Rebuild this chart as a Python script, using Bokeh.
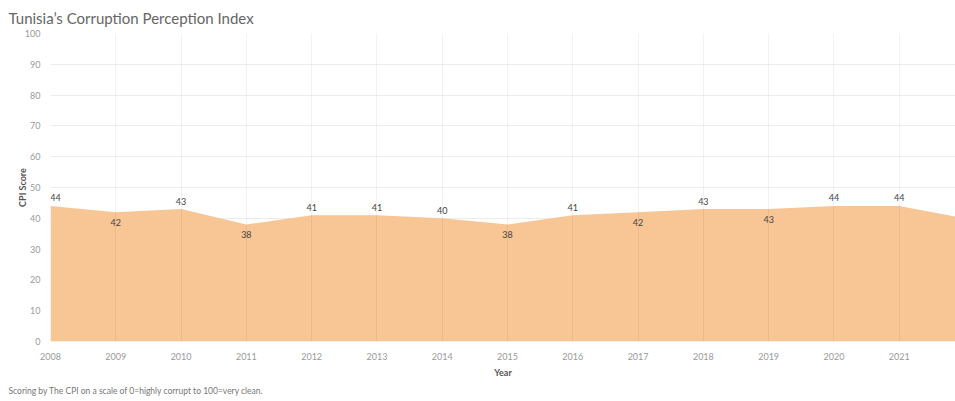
from bokeh.plotting import figure
from bokeh.models import ColumnDataSource, Range1d, FixedTicker, Title, Label
from bokeh.core.properties import value
from bokeh.embed import file_html
from bokeh.resources import INLINE

# ---- data ----
years = [2008, 2009, 2010, 2011, 2012, 2013, 2014, 2015, 2016, 2017, 2018, 2019, 2020, 2021, 2022]
cpi = [44, 42, 43, 38, 41, 41, 40, 38, 41, 42, 43, 43, 44, 44, 40]
label_side = ["above", "below", "above", "below", "above", "above", "above", "below",
              "above", "below", "above", "below", "above", "above", "below"]
y_ticks = [0, 10, 20, 30, 40, 50, 60, 70, 80, 90, 100]
title_text = "Tunisia\u2019s Corruption Perception Index"
footer_text = "Scoring by The CPI on a scale of 0=highly corrupt to 100=very clean."

FONT = "Lato"
AREA = "#F8C594"

p = figure(width=955, height=401, output_backend="svg", toolbar_location=None,
           x_range=Range1d(2008, 2021.862), y_range=Range1d(0, 100),
           min_border_left=50, min_border_right=0, min_border_top=32, min_border_bottom=60,
           background_fill_color="white", border_fill_color="white")
p.outline_line_color = None

# title
p.title.text = title_text
p.title.text_font = FONT
p.title.text_font_size = "15px"
p.title.text_font_style = "normal"
p.title.text_color = "#666666"
p.title.align = "left"
p.title.offset = -42
p.title.standoff = 13

# area
src = ColumnDataSource(dict(x=years, y=cpi, y0=[0] * len(years)))
p.varea(x="x", y1="y0", y2="y", source=src, fill_color=AREA, fill_alpha=1.0)

# value labels
xoff = []
yoff = []
for i, s in enumerate(label_side):
    xoff.append(5 if i == 0 else 0)
    yoff.append(-8 if s == "above" else 10)
lab_src = ColumnDataSource(dict(x=years, y=cpi, t=[str(v) for v in cpi], xo=xoff, yo=yoff))
p.text(x="x", y="y", text="t", source=lab_src, x_offset="xo", y_offset="yo",
       text_font=value(FONT), text_font_size="9px", text_color="#444444",
       text_align="center", text_baseline="middle")

# grids
p.ygrid.ticker = FixedTicker(ticks=y_ticks)
p.ygrid.grid_line_color = "#ececec"
p.ygrid.grid_line_width = 1
p.xgrid.ticker = FixedTicker(ticks=years)
p.xgrid.grid_line_color = "#000000"
p.xgrid.grid_line_alpha = 0.05
p.xgrid.level = "overlay"

# axes
p.yaxis.ticker = FixedTicker(ticks=y_ticks)
p.xaxis.ticker = FixedTicker(ticks=years)
for ax in (p.xaxis[0], p.yaxis[0]):
    ax.axis_line_color = None
    ax.major_tick_line_color = None
    ax.minor_tick_line_color = None
    ax.major_label_text_font = FONT
    ax.major_label_text_font_size = "9px"
    ax.major_label_text_color = "#9a9a9a"
    ax.axis_label_text_font = FONT
    ax.axis_label_text_font_size = "9px"
    ax.axis_label_text_font_style = "bold"
    ax.axis_label_text_color = "#555555"
p.yaxis.axis_label = "CPI Score"
p.yaxis.major_label_standoff = 4
p.yaxis.axis_label_standoff = -6
p.xaxis.axis_label = "Year"
p.xaxis.major_label_standoff = 5
p.xaxis.axis_label_standoff = 4

# last year's tick label, cut by the window edge
p.add_layout(Label(x=years[-1], y=-3.6, text=str(years[-1]), text_align="right",
                   text_baseline="middle", text_font=FONT, text_font_size="9px",
                   text_color="#9a9a9a"))

# footer
footer = Title(text=footer_text, align="left", offset=-42, text_font=FONT,
               text_font_size="8.5px", text_font_style="normal", text_color="#777777",
               standoff=6)
p.add_layout(footer, "below")

open("out.html", "w").write(file_html(p, INLINE))
